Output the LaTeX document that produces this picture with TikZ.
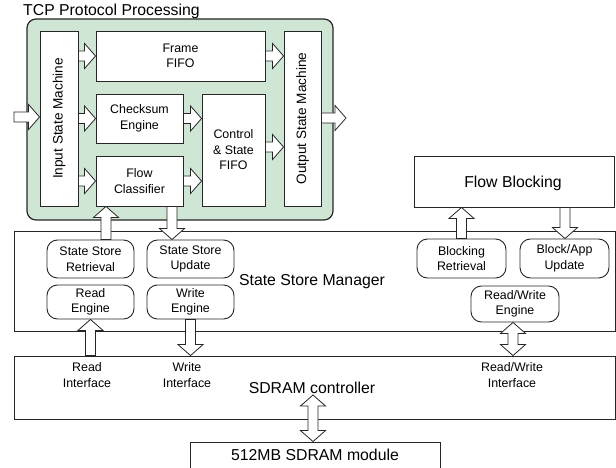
\documentclass[tikz,border=0pt]{standalone}
\usepackage{fontspec}
\setmainfont{Liberation Sans}
\usetikzlibrary{calc}

\definecolor{tcpgreen}{HTML}{CFE6D5}
\definecolor{ink}{HTML}{262626}

\newcommand\txtS{\fontsize{12.4pt}{15.5pt}\selectfont}
\newcommand\txtR{\fontsize{13.6pt}{16pt}\selectfont}
\newcommand\txtL{\fontsize{15.8pt}{19pt}\selectfont}

% hollow block arrow: shaft half-width, head half-width, head length
\newcommand\faW{5pt}
\newcommand\faH{12.5pt}
\newcommand\faL{11pt}

% \fatarrow{(from)}{(to)} : single-headed hollow arrow, tip at (to)
\newcommand\fatarrow[3][]{%
  \path #2 coordinate (fa-s) #3 coordinate (fa-e);
  \path ($(fa-e)!\faL!(fa-s)$) coordinate (fa-h);
  \draw[fat,#1] ($(fa-s)!\faW!90:(fa-e)$) -- ($(fa-h)!\faW!-90:(fa-s)$)
    -- ($(fa-h)!\faH!-90:(fa-s)$) -- (fa-e) -- ($(fa-h)!\faH!90:(fa-s)$)
    -- ($(fa-h)!\faW!90:(fa-s)$) -- ($(fa-s)!\faW!-90:(fa-e)$) -- cycle;}

% \fatdarrow{(a)}{(b)} : double-headed hollow arrow
\newcommand\fatdarrow[3][]{%
  \path #2 coordinate (fa-s) #3 coordinate (fa-e);
  \path ($(fa-s)!\faL!(fa-e)$) coordinate (fa-a)
        ($(fa-e)!\faL!(fa-s)$) coordinate (fa-b);
  \draw[fat,#1] (fa-s) -- ($(fa-a)!\faH!90:(fa-e)$) -- ($(fa-a)!\faW!90:(fa-e)$)
    -- ($(fa-b)!\faW!-90:(fa-s)$) -- ($(fa-b)!\faH!-90:(fa-s)$) -- (fa-e)
    -- ($(fa-b)!\faH!90:(fa-s)$) -- ($(fa-b)!\faW!90:(fa-s)$)
    -- ($(fa-a)!\faW!-90:(fa-e)$) -- ($(fa-a)!\faH!-90:(fa-e)$) -- cycle;}

\tikzset{
  box/.style={draw=ink, line width=0.9pt, fill=white, inner sep=0pt,
    align=center, font=\txtS},
  rbox/.style={box, rounded corners=10.5pt},
  vbox/.style={box, label={[rotate=90,font=\txtR,inner sep=0pt]center:#1}},
  fat/.style={draw=ink, fill=white, line width=0.8pt, line join=miter},
  txt/.style={inner sep=0pt, align=center, font=\txtS},
  big/.style={inner sep=0pt, font=\txtL},
}

\begin{document}
\begin{tikzpicture}[x=1pt,y=-1pt]
\useasboundingbox (0,0) rectangle (616,468);

% ---- TCP protocol processing block ----
\node[draw=ink, line width=1.2pt, fill=tcpgreen, rounded corners=9pt,
      minimum width=306pt, minimum height=201pt, inner sep=0pt] (tcp) at (180,119.5) {};
\node[big, anchor=base west] (tcptitle) at (23,16) {TCP Protocol Processing};

\node[vbox=Input State Machine, minimum width=38pt, minimum height=175pt] (insm) at (59,118.5) {};
\node[box, minimum width=169pt, minimum height=50pt] (frame) at (180.5,56) {Frame\\FIFO};
\node[box, minimum width=87pt, minimum height=49pt] (cks) at (139.5,118.5) {Checksum\\Engine};
\node[box, minimum width=87pt, minimum height=50pt] (fc) at (139.5,181) {Flow\\Classifier};
\node[box, minimum width=63pt, minimum height=112pt] (ctrl) at (233.5,150) {Control\\\& State\\FIFO};
\node[vbox=Output State Machine, minimum width=37pt, minimum height=175pt] (osm) at (302.5,118.5) {};

% ---- flow blocking ----
\node[box, minimum width=200pt, minimum height=51pt] (fb) at (514,181.5) {};
\node[big, anchor=base] (fblabel) at (513,188) {Flow Blocking};

% ---- state store manager ----
\node[box, minimum width=601pt, minimum height=100pt] (ssm) at (314.5,281) {};
\node[big, anchor=base] (ssmlabel) at (312,285) {State Store Manager};
\node[rbox, minimum width=87pt, minimum height=38pt] (ssr) at (90.5,259) {State Store\\Retrieval};
\node[rbox, minimum width=87pt, minimum height=38pt] (ssu) at (190.5,259) {State Store\\Update};
\node[rbox, minimum width=87pt, minimum height=34pt] (rdeng) at (90.5,302) {Read\\Engine};
\node[rbox, minimum width=87pt, minimum height=34pt] (wreng) at (190.5,302) {Write\\Engine};
\node[rbox, minimum width=89pt, minimum height=39pt] (blkr) at (461.5,258.5) {Blocking\\Retrieval};
\node[rbox, minimum width=89pt, minimum height=39pt] (blku) at (564.5,258.5) {Block/App\\Update};
\node[rbox, minimum width=88pt, minimum height=36pt] (rweng) at (515,304) {Read/Write\\Engine};

% ---- SDRAM controller ----
\node[box, minimum width=601pt, minimum height=63pt] (sdram) at (314.5,387.5) {};
\node[big, anchor=base] (sdramlabel) at (312,393) {SDRAM controller};
\node[txt] (rdif) at (87,375) {Read\\Interface};
\node[txt] (wrif) at (187,375) {Write\\Interface};
\node[txt] (rwif) at (512,375) {Read/Write\\Interface};

% memory module, running off the lower edge
\node[box, font=\txtL, text depth=5pt, minimum width=250pt, minimum height=30pt] (mem) at (315,457) {512MB SDRAM module};

% ---- connectors ----
\coordinate (tcpin) at (14,117);
\coordinate (tcpout) at (346,118);
\fatarrow{(tcpin)}{(tcpin -| insm.west)}
\fatarrow{(insm.east |- frame.west)}{(frame.west)}
\fatarrow{(insm.east |- cks.west)}{(cks.west)}
\fatarrow{(insm.east |- fc.west)}{(fc.west)}
\fatarrow{(cks.east)}{(ctrl.west |- cks.east)}
\fatarrow{(fc.east)}{(ctrl.west |- fc.east)}
\fatarrow{(frame.east)}{(osm.west |- frame.east)}
\path ([yshift=3pt]ctrl.east) coordinate (ctrlout);
\fatarrow{(ctrlout)}{(osm.west |- ctrlout)}
\fatarrow{(osm.east |- tcpout)}{(tcpout)}

\path ([xshift=15.5pt]ssr.north) coordinate (ssrup);
\fatarrow{(ssrup)}{(ssrup |- fc.south)}
\path ([xshift=-18.5pt]ssu.north) coordinate (ssudn);
\fatarrow{(ssudn |- fc.south)}{(ssudn)}

\fatarrow{(blkr.north)}{(blkr.north |- fb.south)}
\path ([xshift=0.5pt]blku.north) coordinate (blkdn);
\fatarrow{(blkdn |- fb.south)}{(blkdn)}

\fatarrow{(rdeng.south |- sdram.north)}{(rdeng.south)}
\fatarrow{(wreng.south)}{(wreng.south |- sdram.north)}
\fatdarrow{([xshift=-2pt]rweng.south)}{([xshift=-2pt]rweng.south |- sdram.north)}
\path ([xshift=-2pt]mem.north |- 0,395) coordinate (memup);
\fatdarrow{(memup)}{(memup |- mem.north)}
\end{tikzpicture}
\end{document}
